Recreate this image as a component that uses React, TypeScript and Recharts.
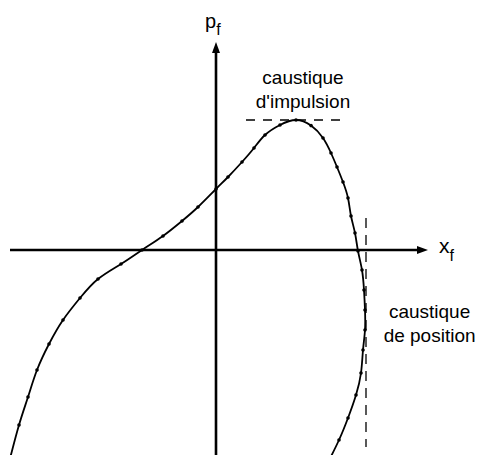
import { LineChart, Line, XAxis, YAxis, ReferenceLine, ReferenceDot } from "recharts";

// phase-space curve (origin at the axes crossing)
const curveX = [
  -10.37, -9.85, -9.4, -8.95, -8.35, -7.65, -6.8, -5.9, -4.75, -3.7, -2.65, -1.7, -0.9, 0.0, 0.6, 1.3,
  1.9, 2.45, 3.2, 4.0, 4.75, 5.35, 5.75, 6.05, 6.35, 6.6, 6.75, 6.95, 7.1, 7.3, 7.4, 7.45, 7.45,
  7.35, 7.25, 7.0, 6.6, 6.15, 5.56,
];
const curveY = [
  -10.7, -8.75, -7.35, -6.0, -4.7, -3.5, -2.4, -1.45, -0.7, 0.0, 0.7, 1.45, 2.15, 3.05, 3.65, 4.4,
  5.1, 5.75, 6.25, 6.5, 6.22, 5.6, 4.85, 4.15, 3.4, 2.6, 1.7, 0.85, -0.05, -1.0, -2.0, -3.0, -4.0,
  -5.0, -6.15, -7.25, -8.4, -9.5, -10.7,
];

const momentumCaustic = { y: 6.5, from: 1.5, to: 6.45 };
const positionCaustic = { x: 7.5, from: 1.6, to: -9.85 };

const xDomain = [-10.8, 13.15];
const yDomain = [-10.25, 12.5];

const data = curveX.map((x, i) => ({ x, y: curveY[i] }));

const font = "'Liberation Sans', Arial, sans-serif";

function ArrowAxis(props: any) {
  const { x1, y1, x2, y2 } = props;
  const dx = x2 - x1;
  const dy = y2 - y1;
  const len = Math.sqrt(dx * dx + dy * dy) || 1;
  const ux = dx / len;
  const uy = dy / len;
  const head = 11;
  const half = 4;
  const bx = x2 - ux * head;
  const by = y2 - uy * head;
  const pts = `${x2},${y2} ${bx - uy * half},${by + ux * half} ${bx + uy * half},${by - ux * half}`;
  return (
    <g>
      <line x1={x1} y1={y1} x2={bx + ux * 2} y2={by + uy * 2} stroke="#000" strokeWidth={2.6} />
      <polygon points={pts} fill="#000" />
    </g>
  );
}

// curve ends run off the frame without a dot
function CurveDot(props: any) {
  const { cx, cy, payload, index } = props;
  if (!payload || payload.y < yDomain[0]) return <g key={`d${index}`} />;
  return <circle key={`d${index}`} cx={cx} cy={cy} r={1.8} fill="#000" />;
}

function TextAt(lines: string[], size: number, anchor: "middle" | "start") {
  return (props: any) => (
    <text x={props.cx} y={props.cy} textAnchor={anchor} fontFamily={font} fontSize={size} fill="#000">
      {lines.map((l, i) => (
        <tspan key={i} x={props.cx} dy={i === 0 ? 0 : size * 1.25}>
          {l}
        </tspan>
      ))}
    </text>
  );
}

function SubLabel(main: string, sub: string, size: number, subSize: number, drop: number) {
  return (props: any) => (
    <text x={props.cx} y={props.cy} fontFamily={font} fontSize={size} fill="#000">
      {main}
      <tspan fontSize={subSize} dy={drop}>
        {sub}
      </tspan>
    </text>
  );
}

export default function App() {
  return (
    <div style={{ position: "absolute", left: 0, top: 0, background: "#fff" }}>
      <LineChart width={479} height={455} data={data} margin={{ top: 0, right: 0, bottom: 0, left: 0 }}>
        <XAxis type="number" dataKey="x" domain={xDomain} hide allowDataOverflow />
        <YAxis type="number" dataKey="y" domain={yDomain} hide allowDataOverflow />
        <ReferenceLine
          segment={[{ x: -10.3, y: 0 }, { x: 10.6, y: 0 }]}
          shape={ArrowAxis}
          ifOverflow="visible"
        />
        <ReferenceLine
          segment={[{ x: 0, y: -10.25 }, { x: 0, y: 10.4 }]}
          shape={ArrowAxis}
          ifOverflow="visible"
        />
        <ReferenceLine
          segment={[{ x: momentumCaustic.from, y: momentumCaustic.y }, { x: momentumCaustic.to, y: momentumCaustic.y }]}
          stroke="#000"
          strokeWidth={1.5}
          strokeDasharray="9 8"
          ifOverflow="visible"
        />
        <ReferenceLine
          segment={[{ x: positionCaustic.x, y: positionCaustic.from }, { x: positionCaustic.x, y: positionCaustic.to }]}
          stroke="#000"
          strokeWidth={1.3}
          strokeDasharray="10 7"
          ifOverflow="visible"
        />
        <Line
          type="natural"
          dataKey="y"
          stroke="#000"
          strokeWidth={1.8}
          dot={CurveDot}
          activeDot={false}
          isAnimationActive={false}
        />
        <ReferenceDot x={4.35} y={8.3} r={0} shape={TextAt(["caustique", "d'impulsion"], 19, "middle")} ifOverflow="visible" />
        <ReferenceDot x={10.68} y={-3.4} r={0} shape={TextAt(["caustique", "de position"], 19, "middle")} ifOverflow="visible" />
        <ReferenceDot x={-0.55} y={11.1} r={0} shape={SubLabel("p", "f", 20, 16, 7)} ifOverflow="visible" />
        <ReferenceDot x={11.15} y={-0.15} r={0} shape={SubLabel("x", "f", 21, 16, 8)} ifOverflow="visible" />
      </LineChart>
    </div>
  );
}
